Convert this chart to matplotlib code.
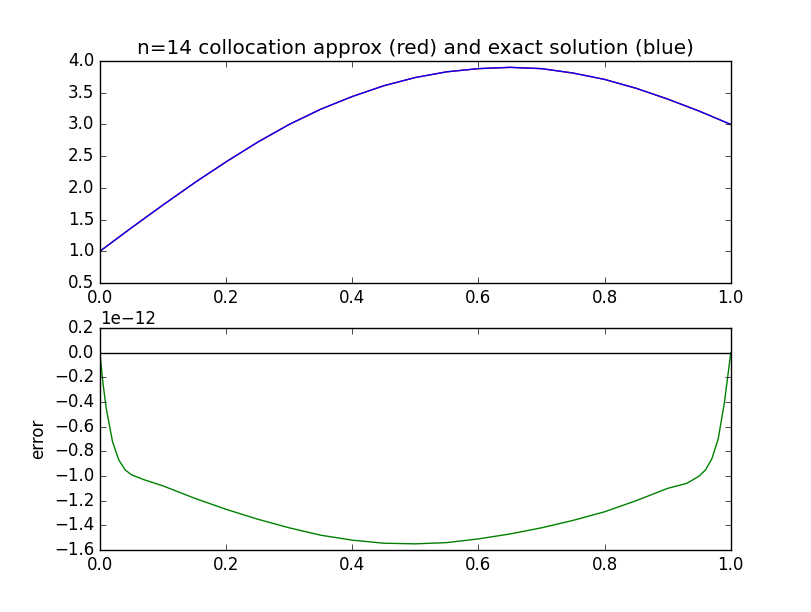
import matplotlib
matplotlib.use("Agg")
import matplotlib.pyplot as plt
import numpy as np
plt.style.use("classic")

x_top = [0.0, 0.05, 0.1, 0.15, 0.2, 0.25, 0.3, 0.35, 0.4, 0.45, 0.5, 0.55, 0.6, 0.65, 0.7, 0.75, 0.8, 0.85, 0.9, 0.95, 1.0]
y_approx = [1.0, 1.37, 1.73, 2.08, 2.41, 2.72, 3.0, 3.24, 3.44, 3.61, 3.74, 3.83, 3.88, 3.9, 3.88, 3.81, 3.71, 3.57, 3.4, 3.21, 3.0]
y_exact = y_approx

x_err = [0.0, 0.005, 0.01, 0.02, 0.03, 0.04, 0.05, 0.07, 0.1, 0.15, 0.2, 0.25, 0.3, 0.35, 0.4, 0.45, 0.5, 0.55, 0.6, 0.65, 0.7, 0.75, 0.8, 0.85, 0.9, 0.93, 0.95, 0.96, 0.97, 0.98, 0.99, 0.995, 1.0]
err = [0.0, -0.25, -0.45, -0.72, -0.87, -0.95, -0.99, -1.03, -1.08, -1.18, -1.27, -1.35, -1.42, -1.48, -1.52, -1.545, -1.55, -1.54, -1.51, -1.47, -1.42, -1.36, -1.29, -1.2, -1.1, -1.06, -1.0, -0.95, -0.86, -0.7, -0.4, -0.2, 0.0]

fig = plt.figure(figsize=(8.12, 6.12), dpi=100)
ax1 = fig.add_axes([0.123, 0.5376, 0.777, 0.3627])
ax1.plot(x_top, y_approx, color="red")
ax1.plot(x_top, y_exact, color="blue")
ax1.set_xlim(0, 1)
ax1.set_ylim(0.5, 4.0)
ax1.set_title("n=14 collocation approx (red) and exact solution (blue)")

ax2 = fig.add_axes([0.123, 0.1013, 0.777, 0.3627])
ax2.plot([0, 1], [0, 0], color="black")
ax2.plot(x_err, [e * 1e-12 for e in err], color="green")
ax2.set_xlim(0, 1)
ax2.set_ylim(-1.6e-12, 0.2e-12)
ax2.set_yticks(np.arange(-1.6, 0.21, 0.2) * 1e-12)
ax2.set_ylabel("error")

fig.savefig("out.png", dpi=100)
